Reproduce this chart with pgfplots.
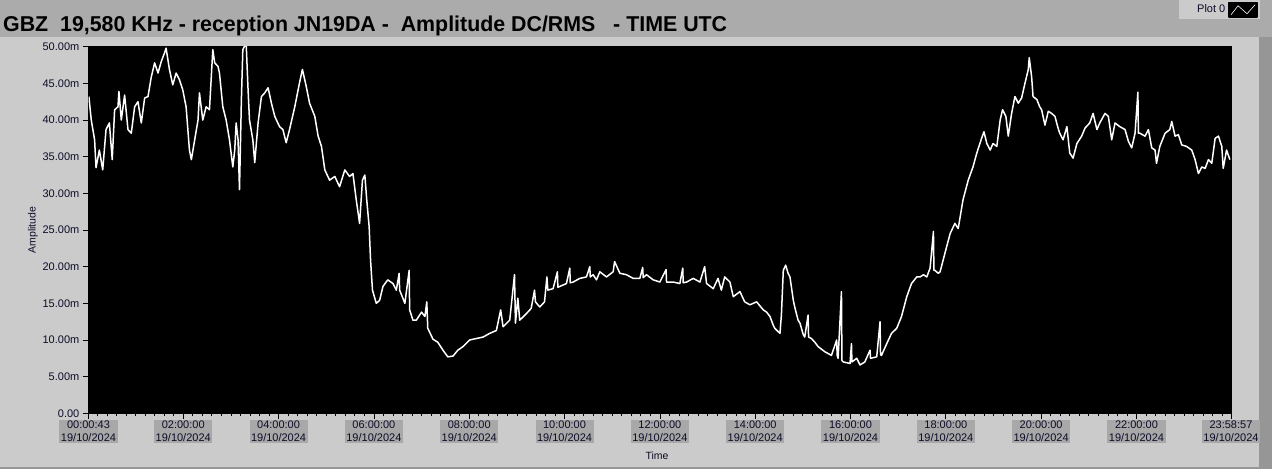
\documentclass[border=0pt]{standalone}
\usepackage{pgfplots}
\pgfplotsset{compat=1.18}
\usepackage{fontspec}
\setmainfont{Liberation Sans}
\usepackage{graphicx}
\definecolor{panel}{RGB}{203,203,203}
\definecolor{band}{RGB}{171,171,171}
\definecolor{boxg}{RGB}{168,168,168}
\definecolor{txt}{RGB}{12,12,40}
\definecolor{edge}{RGB}{150,150,150}
\begin{document}
\begin{tikzpicture}
\useasboundingbox (0,0) rectangle (1272pt,469pt);
\fill[panel] (0,0) rectangle (1272pt,469pt);
\fill[band] (0,432.3pt) rectangle (1272pt,469pt);
\fill[edge] (1259pt,0) rectangle (1272pt,432.3pt);
\fill[edge] (0,0) rectangle (1272pt,2.5pt);
\node[anchor=base west, inner sep=0pt, text=black] at (3pt,437.3pt)
  {\resizebox{724pt}{\height}{\fontsize{21.5}{24}\selectfont\bfseries GBZ\ \ 19,580 KHz - reception JN19DA -\ \ Amplitude DC/RMS\ \ \ - TIME UTC}};
\begin{axis}[
  at={(88.5pt,55.7pt)}, anchor=south west,
  width=1142.5pt, height=366.6pt, scale only axis,
  xmin=0.012, xmax=23.983, ymin=0, ymax=50,
  axis background/.style={fill=black},
  axis line style={black},
  tick pos=left, tick align=outside,
  major tick length=6pt, minor tick length=3pt,
  tick style={black, line width=0.7pt},
  /pgf/number format/assume math mode=true,
  ytick={0,5,...,50},
  yticklabels={0.00,5.00m,10.00m,15.00m,20.00m,25.00m,30.00m,35.00m,40.00m,45.00m,50.00m},
  yticklabel style={font=\fontsize{11}{12}\selectfont, text=txt, inner sep=3pt},
  xtick={0.012,2,4,6,8,10,12,14,16,18,20,22,23.983},
  xticklabels={{00:00:43\\19/10/2024},{02:00:00\\19/10/2024},{04:00:00\\19/10/2024},{06:00:00\\19/10/2024},{08:00:00\\19/10/2024},{10:00:00\\19/10/2024},{12:00:00\\19/10/2024},{14:00:00\\19/10/2024},{16:00:00\\19/10/2024},{18:00:00\\19/10/2024},{20:00:00\\19/10/2024},{22:00:00\\19/10/2024},{23:58:57\\19/10/2024}},
  xticklabel style={fill=boxg, align=center, inner xsep=1.5pt, inner ysep=1.2pt, font=\fontsize{11}{13.5}\selectfont, text=txt},
  minor xtick={0.2,0.4,...,23.9},
  xlabel={Time},
  xlabel style={at={(axis description cs:0.4976,-0.1165)}, anchor=center, font=\fontsize{10.5}{12}\selectfont, text=txt},
  ylabel={Amplitude},
  ylabel style={at={(axis description cs:-0.0486,0.5)}, anchor=center, font=\fontsize{10.5}{12}\selectfont, text=txt},
  legend style={at={(1.0254,1.1274)}, anchor=north east, fill=panel, draw=none, inner xsep=2pt, inner ysep=1.5pt, font=\fontsize{11}{12}\selectfont, text=txt},
  legend plot pos=right,
  legend image code/.code={\fill[black] (0pt,-7.3pt) rectangle (28pt,7.3pt); \draw[white,line width=0.6pt] (2pt,-5pt)--(9pt,4pt)--(18pt,-4pt)--(26pt,5pt);},
]
\addplot[white, line width=1.5pt, line join=round] coordinates {
(0.02,43.2)(0.07,40.0)(0.14,37.3)(0.17,33.5)(0.24,35.9)(0.31,33.2)(0.38,38.7)(0.45,39.6)(0.51,34.6)(0.56,41.4)(0.63,41.8)(0.65,43.9)(0.70,40.0)(0.77,43.4)(0.84,38.7)(0.91,38.2)(0.98,41.8)(1.05,42.5)(1.12,39.6)(1.19,43.0)(1.26,43.2)(1.33,45.9)(1.40,47.8)(1.47,46.4)(1.54,48.0)(1.61,49.2)(1.64,49.8)(1.71,46.9)(1.78,44.8)(1.85,46.4)(1.92,45.5)(1.99,44.1)(2.06,41.8)(2.13,35.9)(2.17,34.6)(2.24,37.3)(2.31,40.0)(2.34,43.7)(2.41,40.0)(2.48,41.8)(2.55,41.4)(2.62,49.6)(2.66,47.8)(2.73,47.3)(2.76,46.4)(2.83,41.8)(2.90,40.0)(2.97,37.3)(3.04,33.6)(3.08,35.9)(3.11,39.6)(3.15,37.3)(3.18,30.5)(3.22,42.8)(3.25,49.6)(3.32,50.5)(3.36,44.1)(3.39,40.0)(3.46,37.3)(3.50,34.2)(3.57,39.6)(3.64,43.2)(3.71,43.7)(3.78,44.4)(3.85,42.3)(3.92,40.5)(4.02,39.1)(4.09,38.7)(4.16,36.9)(4.23,38.7)(4.34,41.8)(4.44,45.1)(4.50,46.9)(4.58,44.6)(4.65,42.3)(4.76,40.5)(4.83,37.8)(4.90,36.4)(4.97,33.2)(5.07,31.8)(5.18,32.3)(5.28,30.9)(5.39,33.2)(5.49,32.3)(5.56,32.7)(5.63,29.1)(5.70,25.9)(5.76,31.8)(5.81,32.5)(5.85,29.1)(5.90,25.5)(5.93,20.9)(5.97,16.8)(6.05,15.0)(6.12,15.4)(6.19,17.3)(6.29,18.2)(6.40,17.7)(6.47,16.8)(6.53,19.1)(6.54,16.8)(6.65,15.0)(6.74,19.5)(6.75,14.1)(6.82,12.7)(6.89,12.7)(7.00,13.8)(7.07,13.2)(7.11,15.2)(7.13,11.6)(7.24,10.1)(7.34,9.7)(7.45,8.6)(7.55,7.7)(7.66,7.8)(7.76,8.6)(7.87,9.1)(8.01,10.0)(8.15,10.2)(8.29,10.4)(8.43,10.9)(8.57,11.3)(8.66,14.1)(8.71,11.8)(8.85,12.7)(8.95,18.9)(8.97,12.3)(9.02,15.7)(9.06,12.7)(9.20,13.6)(9.30,14.3)(9.37,16.8)(9.39,15.2)(9.48,14.5)(9.58,15.2)(9.63,18.6)(9.65,16.8)(9.76,17.0)(9.85,19.3)(9.86,17.2)(9.90,17.3)(10.04,17.7)(10.11,19.8)(10.12,17.8)(10.18,17.9)(10.32,18.4)(10.46,18.6)(10.53,20.0)(10.54,18.6)(10.60,18.9)(10.67,18.2)(10.74,19.3)(10.88,18.6)(11.02,19.3)(11.05,20.7)(11.16,19.1)(11.30,18.9)(11.44,18.4)(11.58,18.4)(11.64,19.9)(11.65,18.5)(11.72,18.9)(11.86,18.2)(12.00,17.9)(12.13,19.6)(12.14,17.9)(12.28,17.9)(12.42,17.7)(12.48,19.8)(12.49,17.8)(12.56,17.9)(12.70,18.4)(12.84,17.9)(12.94,20.0)(12.98,17.7)(13.12,17.0)(13.22,18.4)(13.29,16.8)(13.36,18.6)(13.47,17.9)(13.54,15.9)(13.68,16.6)(13.78,15.2)(13.89,14.8)(14.03,15.2)(14.17,14.1)(14.24,13.8)(14.31,13.2)(14.38,12.0)(14.41,11.6)(14.52,10.9)(14.55,13.4)(14.59,19.5)(14.64,20.2)(14.69,19.1)(14.73,18.6)(14.80,15.4)(14.83,14.5)(14.90,12.7)(14.94,12.3)(15.01,10.7)(15.04,10.4)(15.11,13.4)(15.12,10.4)(15.18,10.2)(15.25,9.7)(15.32,9.1)(15.46,8.4)(15.60,7.9)(15.71,10.0)(15.72,7.9)(15.74,7.5)(15.81,16.6)(15.82,7.2)(15.85,7.0)(15.99,6.8)(16.02,9.5)(16.03,7.0)(16.13,7.5)(16.20,6.6)(16.30,7.0)(16.41,8.6)(16.42,7.5)(16.55,7.7)(16.62,12.5)(16.63,8.0)(16.65,7.9)(16.76,9.5)(16.86,10.9)(16.97,11.6)(17.07,13.2)(17.18,15.9)(17.28,17.7)(17.39,18.6)(17.46,18.6)(17.53,18.9)(17.60,18.6)(17.67,19.8)(17.74,24.8)(17.75,19.5)(17.77,19.5)(17.84,19.1)(17.88,19.3)(17.98,21.8)(18.09,24.5)(18.19,25.9)(18.26,25.2)(18.36,29.1)(18.47,31.8)(18.57,33.6)(18.65,35.5)(18.75,37.5)(18.80,38.4)(18.86,36.8)(18.93,35.9)(18.99,36.8)(19.07,36.4)(19.14,40.0)(19.19,41.4)(19.26,40.5)(19.31,37.8)(19.38,40.9)(19.45,43.2)(19.52,42.3)(19.59,43.0)(19.66,45.0)(19.73,46.9)(19.75,48.5)(19.80,45.9)(19.83,43.2)(19.91,42.8)(19.97,41.8)(20.01,41.4)(20.08,39.3)(20.15,41.2)(20.22,40.9)(20.29,40.5)(20.35,39.0)(20.39,38.2)(20.46,37.3)(20.54,39.1)(20.60,35.5)(20.67,34.8)(20.75,36.8)(20.85,37.8)(20.92,38.9)(21.02,39.6)(21.09,40.9)(21.17,38.7)(21.23,39.6)(21.34,40.9)(21.41,40.5)(21.48,37.3)(21.55,39.6)(21.65,39.1)(21.76,38.7)(21.83,37.1)(21.90,36.2)(21.97,38.2)(22.03,43.8)(22.04,38.2)(22.07,38.2)(22.18,37.8)(22.25,38.7)(22.32,36.2)(22.39,35.9)(22.42,34.1)(22.49,36.4)(22.60,38.2)(22.70,38.7)(22.74,39.8)(22.81,37.8)(22.88,38.0)(22.95,36.6)(23.05,36.4)(23.16,35.9)(23.23,34.6)(23.30,32.7)(23.37,33.6)(23.44,33.4)(23.51,34.6)(23.58,34.1)(23.65,37.5)(23.72,37.8)(23.79,36.4)(23.82,33.4)(23.89,35.9)(23.96,34.6)
};
\addlegendentry{\hspace*{14pt}Plot 0\hspace*{1pt}}
\end{axis}
\end{tikzpicture}
\end{document}
